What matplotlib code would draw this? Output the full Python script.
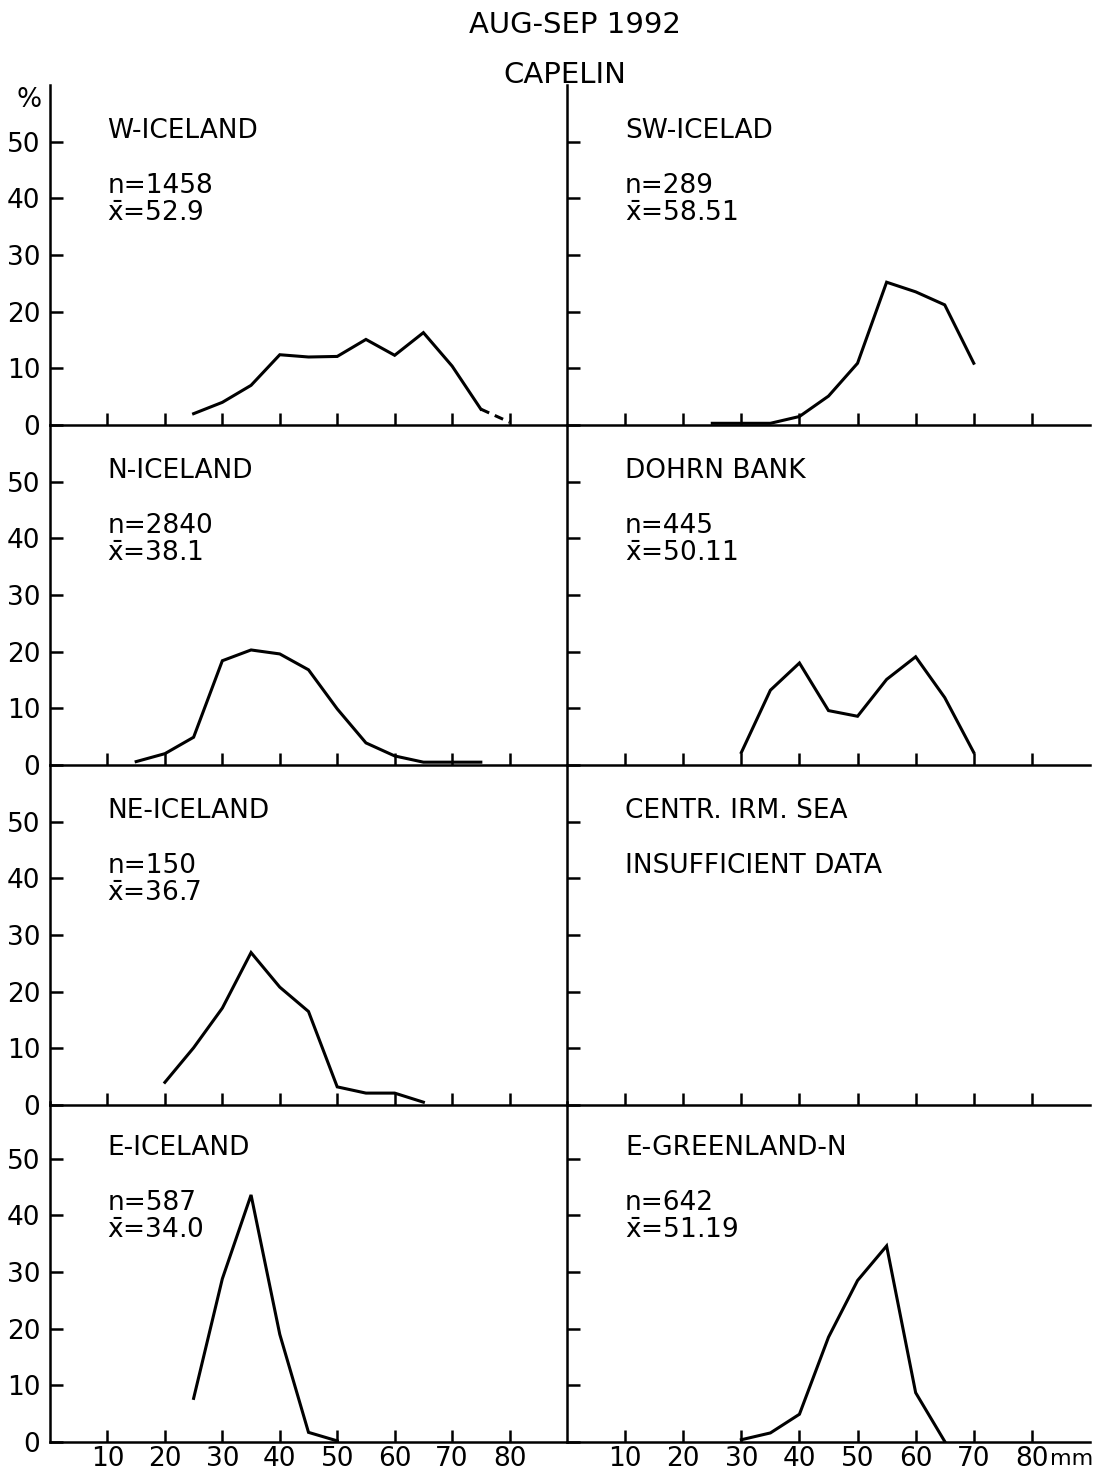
import matplotlib
matplotlib.use("Agg")
import matplotlib.pyplot as plt

# length classes (mm) and percentages
w_ice_x = [25, 30, 35, 40, 45, 50, 55, 60, 65, 70, 75]
w_ice_y = [2.0, 4.0, 7.0, 12.4, 12.0, 12.1, 15.1, 12.3, 16.3, 10.4, 2.8]
w_ice_dash_x = [75, 80]
w_ice_dash_y = [2.8, 0.5]

sw_ice_x = [25, 30, 35, 40, 45, 50, 55, 60, 65, 70]
sw_ice_y = [0.3, 0.3, 0.3, 1.5, 5.1, 10.9, 25.2, 23.5, 21.2, 10.9]

n_ice_x = [15, 20, 25, 30, 35, 40, 45, 50, 55, 60, 65, 70, 75]
n_ice_y = [0.6, 2.0, 4.9, 18.4, 20.3, 19.6, 16.8, 9.9, 3.9, 1.6, 0.5, 0.5, 0.5]

dohrn_x = [30, 35, 40, 45, 50, 55, 60, 65, 70]
dohrn_y = [2.2, 13.2, 18.0, 9.6, 8.6, 15.1, 19.1, 11.9, 2.2]

ne_ice_x = [20, 25, 30, 35, 40, 45, 50, 55, 60, 65]
ne_ice_y = [4.0, 10.1, 17.1, 26.9, 20.8, 16.5, 3.2, 2.1, 2.1, 0.5]

e_ice_x = [25, 30, 35, 40, 45, 50]
e_ice_y = [7.7, 28.8, 43.6, 19.0, 1.7, 0.2]

e_green_x = [30, 35, 40, 45, 50, 55, 60, 65]
e_green_y = [0.4, 1.6, 4.9, 18.5, 28.5, 34.6, 8.7, 0.1]

titles = ["W-ICELAND", "SW-ICELAD", "N-ICELAND", "DOHRN BANK",
          "NE-ICELAND", "CENTR. IRM. SEA", "E-ICELAND", "E-GREENLAND-N"]
n_vals = ["1458", "289", "2840", "445", "150", None, "587", "642"]
means = ["52.9", "58.51", "38.1", "50.11", "36.7", None, "34.0", "51.19"]
series = [(w_ice_x, w_ice_y), (sw_ice_x, sw_ice_y), (n_ice_x, n_ice_y),
          (dohrn_x, dohrn_y), (ne_ice_x, ne_ice_y), None,
          (e_ice_x, e_ice_y), (e_green_x, e_green_y)]

xticks = [10, 20, 30, 40, 50, 60, 70, 80]
yticks = [0, 10, 20, 30, 40, 50]

W, H = 1099, 1472
fig = plt.figure(figsize=(W / 100, H / 100), dpi=100)
plt.rcParams['font.family'] = ['DejaVu Sans']
fs = 19
lw_axis = 1.8
lw_line = 2.2

zero_rows = [425, 765, 1105, 1442]
row_h = 340
cols = [(50, 517), (567, 523)]

for i in range(8):
    r, c = divmod(i, 2)
    x0, wpx = cols[c]
    bottom = 1 - zero_rows[r] / H
    ax = fig.add_axes([x0 / W, bottom, wpx / W, row_h / H])
    ax.set_xlim(0, 90)
    ax.set_ylim(0, 60)
    for s in ("top", "right"):
        ax.spines[s].set_visible(False)
    for s in ("left", "bottom"):
        ax.spines[s].set_linewidth(lw_axis)
    ax.set_xticks(xticks)
    ax.set_yticks(yticks)
    ax.tick_params(direction="in", length=9, width=lw_axis, labelsize=fs, pad=7)
    if c == 1:
        ax.set_yticklabels([])
    if r < 3:
        ax.set_xticklabels([])
    else:
        ax.tick_params(axis="x", pad=3)
        if c == 1:
            ax.annotate("mm", xy=(90.6, 0), xycoords=ax.get_xaxis_transform(),
                        xytext=(0, -5), textcoords="offset points",
                        ha="right", va="top", fontsize=16)

    ax.text(10, 51.8, titles[i], fontsize=fs, va="center", ha="left")
    if n_vals[i] is not None:
        ax.text(10, 42.2, "n=" + n_vals[i], fontsize=fs, va="center", ha="left")
        ax.text(10, 37.3, r"$\bar{\mathrm{x}}$=" + means[i], fontsize=fs,
                va="center", ha="left")
    else:
        ax.text(10, 42.2, "INSUFFICIENT DATA", fontsize=fs, va="center", ha="left")

    if series[i] is not None:
        xs, ys = series[i]
        ax.plot(xs, ys, color="black", lw=lw_line, solid_joinstyle="miter")
    if i == 0:
        ax.plot(w_ice_dash_x, w_ice_dash_y, color="black", lw=lw_line,
                linestyle=(0, (3, 2)))
    ax.patch.set_alpha(0)

fig.text(575 / W, 1 - 25 / H, "AUG-SEP 1992", fontsize=21, ha="center", va="center")
fig.text(565 / W, 1 - 75 / H, "CAPELIN", fontsize=21, ha="center", va="center")
fig.text(16 / W, 1 - 100 / H, "%", fontsize=fs, ha="left", va="center")

fig.savefig("out.png", dpi=100)
